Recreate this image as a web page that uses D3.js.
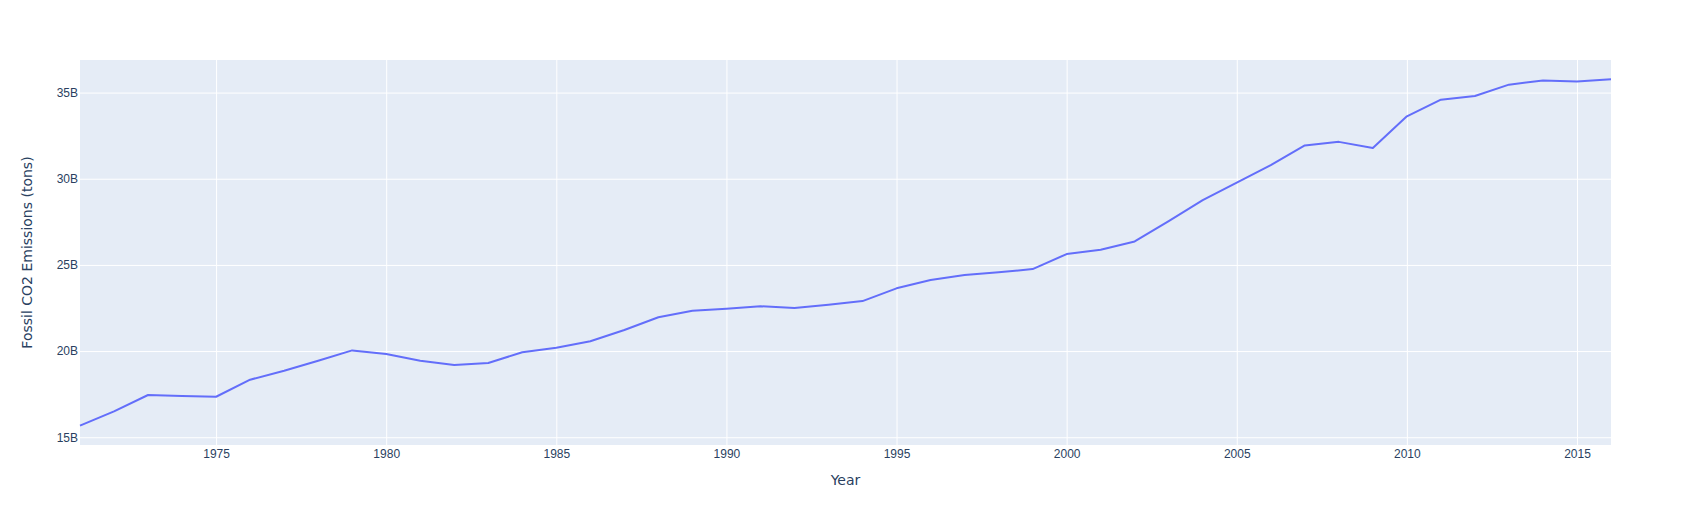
<!DOCTYPE html>
<html>
<head>
<meta charset="utf-8">
<script src="https://cdn.jsdelivr.net/npm/d3@7"></script>
<style>
  html, body { margin: 0; padding: 0; background: #fff; }
  svg { display: block; font-family: "DejaVu Sans", verdana, arial, sans-serif; }
  .axis path, .axis line { stroke: none; }
  .grid line { stroke: #fff; stroke-width: 1; }
  .grid path { stroke: none; }
  .axis text { fill: #2a3f5f; font-size: 12px; }
</style>
</head>
<body>
<div id="chart"></div>
<script>
const years = d3.range(1971, 2017);
// fossil CO2 emissions in billion tons
const emissions = [
  15.67, 16.50, 17.45, 17.40, 17.35, 18.34, 18.86, 19.44, 20.04, 19.83,
  19.44, 19.19, 19.31, 19.93, 20.19, 20.57, 21.22, 21.96, 22.34, 22.46,
  22.60, 22.50, 22.69, 22.90, 23.64, 24.12, 24.41, 24.57, 24.76, 25.63,
  25.88, 26.36, 27.54, 28.76, 29.78, 30.79, 31.93, 32.14, 31.79, 33.62,
  34.59, 34.80, 35.46, 35.70, 35.64, 35.77
];
const xTicks = [1975, 1980, 1985, 1990, 1995, 2000, 2005, 2010, 2015];
const yTicks = [15e9, 20e9, 25e9, 30e9, 35e9];
const xTitle = 'Year';
const yTitle = 'Fossil CO2 Emissions (tons)';

const data = years.map((year, i) => ({ year, value: emissions[i] * 1e9 }));

const width = 1691;
const height = 525;
const margin = { top: 60, right: 80, bottom: 80, left: 80 };
const plotW = width - margin.left - margin.right;
const plotH = height - margin.top - margin.bottom;

const svg = d3.select('#chart')
  .append('svg')
  .attr('width', width)
  .attr('height', height);

const xScale = d3.scaleLinear()
  .domain([1971, 2016])
  .range([margin.left, margin.left + plotW]);

const yScale = d3.scaleLinear()
  .domain([14.55e9, 36.89e9])
  .range([margin.top + plotH, margin.top]);

svg.append('rect')
  .attr('x', margin.left)
  .attr('y', margin.top)
  .attr('width', plotW)
  .attr('height', plotH)
  .attr('fill', '#E5ECF6');

// gridlines
svg.append('g')
  .attr('class', 'grid')
  .attr('transform', `translate(0,${margin.top + plotH})`)
  .call(d3.axisBottom(xScale).tickValues(xTicks).tickFormat('').tickSize(-plotH).tickSizeOuter(0));

svg.append('g')
  .attr('class', 'grid')
  .attr('transform', `translate(${margin.left},0)`)
  .call(d3.axisLeft(yScale).tickValues(yTicks).tickFormat('').tickSize(-plotW).tickSizeOuter(0));

// axes labels
svg.append('g')
  .attr('class', 'axis')
  .attr('transform', `translate(0,${margin.top + plotH})`)
  .call(d3.axisBottom(xScale).tickValues(xTicks).tickFormat(d3.format('d')).tickSize(0).tickPadding(0))
  .selectAll('text')
  .attr('dy', null)
  .attr('y', 12.5);

const fmtB = (d) => d3.format('~s')(d).replace('G', 'B');
svg.append('g')
  .attr('class', 'axis')
  .attr('transform', `translate(${margin.left},0)`)
  .call(d3.axisLeft(yScale).tickValues(yTicks).tickFormat(fmtB).tickSize(0).tickPadding(2));

const line = d3.line()
  .x((d) => xScale(d.year))
  .y((d) => yScale(d.value));

svg.append('path')
  .datum(data)
  .attr('d', line)
  .attr('fill', 'none')
  .attr('stroke', '#636EFA')
  .attr('stroke-width', 2)
  .attr('stroke-linejoin', 'round');

svg.append('text')
  .attr('x', margin.left + plotW / 2)
  .attr('y', 485)
  .attr('text-anchor', 'middle')
  .attr('fill', '#2a3f5f')
  .style('font-size', '14px')
  .text(xTitle);

svg.append('text')
  .attr('transform', `translate(31.5,${margin.top + plotH / 2}) rotate(-90)`)
  .attr('text-anchor', 'middle')
  .attr('fill', '#2a3f5f')
  .style('font-size', '14px')
  .text(yTitle);
</script>
</body>
</html>
